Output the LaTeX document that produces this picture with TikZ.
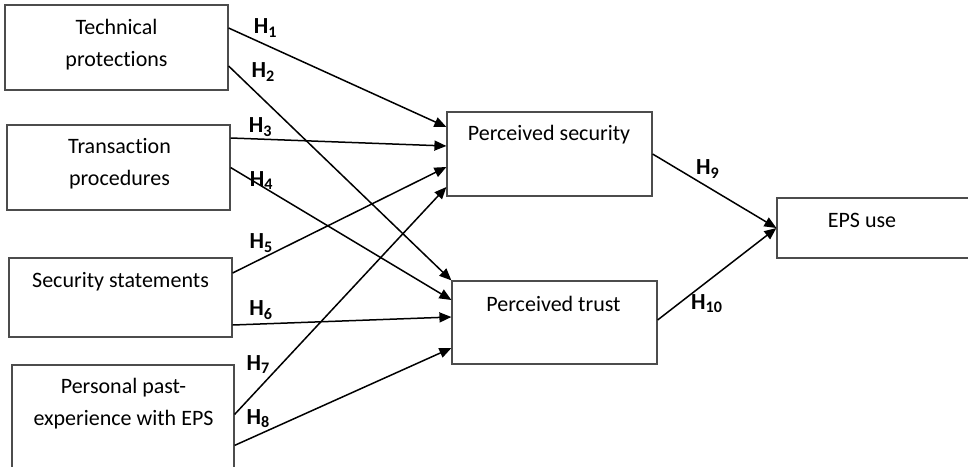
\documentclass[tikz,border=0pt]{standalone}
\usepackage{fontspec}
\setmainfont{Carlito}[Ligatures=NoCommon]
\usetikzlibrary{arrows.meta}
\newcommand{\hyp}[1]{H\textsubscript{#1}}

\begin{document}
\begin{tikzpicture}[x=0.5pt,y=-0.5pt,>={Triangle[length=6pt,width=5pt]},
  box/.style={draw=black!70,line width=0.6pt},
  txt/.style={align=center,inner sep=0pt,font=\fontsize{11}{16}\selectfont},
  hyp/.style={inner sep=0pt,font=\bfseries\fontsize{11.5}{13}\selectfont}]
\useasboundingbox (0,0) rectangle (968,466);
\clip (0,0) rectangle (968,466);
% left column
\node[box,minimum width=111.5pt,minimum height=42.5pt] (tech) at (116.5,47.5) {};
\node[txt] (techtxt) at (116.5,44.5) {Technical\\protections};
\node[box,minimum width=111.5pt,minimum height=42.5pt] (trans) at (118.5,167.5) {};
\node[txt] (transtxt) at (119.5,164) {Transaction\\procedures};
\node[box,minimum width=111.5pt,minimum height=39.5pt] (stmt) at (120.5,297.5) {};
\node[txt] (stmttxt) at (120.5,281.5) {Security statements};
\node[box,minimum width=111pt,minimum height=57.5pt] (exper) at (123,422.5) {};
\node[txt] (expertxt) at (123.5,404) {Personal past-\\experience with EPS};
% middle and right
\node[box,minimum width=102.5pt,minimum height=42pt] (sec) at (549.5,154) {};
\node[txt] (sectxt) at (549,135) {Perceived security};
\node[box,minimum width=102.5pt,minimum height=41.5pt] (trust) at (554.5,322.5) {};
\node[txt] (trusttxt) at (553.5,303.5) {Perceived trust};
\node[box,minimum width=106.5pt,minimum height=30pt] (use) at (883.5,228) {};
\node[txt] (usetxt) at (862,220.5) {EPS use};
% hypotheses
\path[->,line width=0.75pt] ([yshift=9.75pt]tech.east) edge node[hyp,pos=.17,yshift=8.5pt] {\hyp{1}} ([yshift=13.5pt]sec.west);
\path[->,line width=0.75pt] ([yshift=-9.25pt]tech.east) edge node[hyp,pos=.156,yshift=13.8pt] {\hyp{2}} (trust.north west);
\path[->,line width=0.75pt] ([yshift=14.75pt]trans.east) edge node[hyp,pos=.14,yshift=6pt] {\hyp{3}} ([yshift=4pt]sec.west);
\path[->,line width=0.75pt] (trans.east) edge node[hyp,pos=.141,yshift=2.75pt] {\hyp{4}} ([yshift=11.25pt]trust.west);
\path[->,line width=0.75pt] ([yshift=12.25pt]stmt.east) edge node[hyp,pos=.135,yshift=7.85pt] {\hyp{5}} ([yshift=-6.5pt]sec.west);
\path[->,line width=0.75pt] ([yshift=-13.75pt]stmt.east) edge node[hyp,pos=.131,yshift=7pt] {\hyp{6}} ([yshift=2.75pt]trust.west);
\path[->,line width=0.75pt] ([yshift=-25pt]exper.north east) edge node[hyp,pos=.113,yshift=12.1pt] {\hyp{7}} ([yshift=-16.5pt]sec.west);
\path[->,line width=0.75pt] ([yshift=-40.5pt]exper.north east) edge node[hyp,pos=.11,yshift=8.1pt] {\hyp{8}} ([yshift=-12.75pt]trust.west);
\path[->,line width=0.75pt] (sec.east) edge node[hyp,pos=.448,yshift=9.1pt] {\hyp{9}} (use.west);
\path[->,line width=0.75pt] ([yshift=1.25pt]trust.east) edge node[hyp,pos=.417,yshift=-11pt] {\hyp{10}} (use.west);
\end{tikzpicture}
\end{document}
